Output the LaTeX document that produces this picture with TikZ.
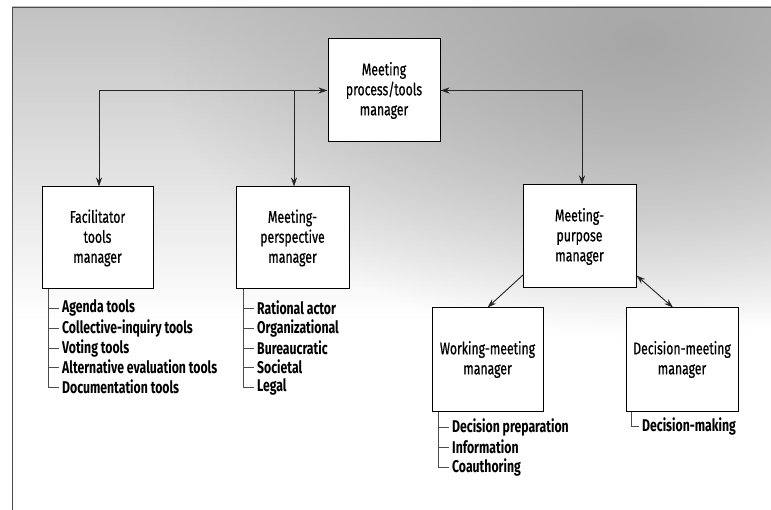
\documentclass[tikz,border=0pt]{standalone}
\usepackage{fontspec}
\setmainfont{Fira Sans}[FakeStretch=0.72]
\newfontfamily\boxfont{Fira Sans}[FakeStretch=0.72,FakeBold=0.6]
\usetikzlibrary{arrows.meta,calc,fadings}
\tikzfading[name=blobfade, inner color=transparent!0, outer color=transparent!100]
\begin{document}
\begin{tikzpicture}[x=1pt,y=-1pt,
  box/.style={draw=black,fill=white,line width=1pt,align=center,
    font=\boxfont\fontsize{17}{20}\selectfont,inner sep=2pt},
  item/.style={anchor=west,inner xsep=3pt,inner ysep=1pt,
    font=\fontsize{17}{18}\selectfont\bfseries},
  conn/.style={line width=0.9pt,draw=black!85},
  tip/.style={-{Stealth[length=9pt,width=6pt]}},
  tips/.style={{Stealth[length=9pt,width=6pt]}-{Stealth[length=9pt,width=6pt]}},
  tree/.style={line width=0.6pt,draw=black!70}]
\useasboundingbox (0,0) rectangle (771,510);
% background stipple (approximated)
\begin{scope}
\clip (12,7) rectangle (771,510);
\fill[top color=black!24,bottom color=white] (12,7) rectangle (771,320);
\fill[black!35,path fading=blobfade] (640,40) ellipse [x radius=480pt,y radius=300pt];
\end{scope}
\draw[line width=0.8pt,black!70] (771,7) -- (12,7) -- (12,510);

% boxes
\node[box,minimum width=112pt,minimum height=103pt] (top) at (384,90.5) {Meeting\\process/tools\\manager};
\node[box,minimum width=111pt,minimum height=102pt] (fac) at (97.5,238) {Facilitator\\tools\\manager};
\node[box,minimum width=113pt,minimum height=102pt] (per) at (292.5,238) {Meeting-\\perspective\\manager};
\node[box,minimum width=113pt,minimum height=103pt] (pur) at (579.5,236.5) {Meeting-\\purpose\\manager};
\node[box,minimum width=111pt,minimum height=103pt] (wrk) at (487.5,359.5) {Working-meeting\\manager};
\node[box,minimum width=112pt,minimum height=103pt] (dec) at (682,359.5) {Decision-meeting\\manager};

% connectors
\draw[conn,tips] ($(fac.north)+(1.5,0)$) |- (top.west);
\coordinate (j1) at ($(per.north)+(1.5,0)$);
\draw[conn,tip] (j1 |- top.west) -- (j1);
\draw[conn,tips] (top.east) -| ($(pur.north)+(2.5,0)$);
\draw[conn,tip] ($(pur.south west)+(1,-14)$) -- (wrk.north);
\draw[conn,tips] ($(pur.south east)+(0,-13)$) -- ($(dec.north)+(-9,0)$);

% facilitator list
\node[item] (f1) at (59,308) {Agenda tools};
\node[item] (f2) at (59,328) {Collective-inquiry tools};
\node[item] (f3) at (59,348) {Voting tools};
\node[item] (f4) at (59,367) {Alternative evaluation tools};
\node[item] (f5) at (59,387) {Documentation tools};
\coordinate (fl) at ($(fac.south west)+(7,0)$);
\draw[tree] (fl) |- (f5.west);
\foreach \n in {f1,f2,f3,f4} \draw[tree] (fl |- \n.west) -- (\n.west);

% perspective list
\node[item] (p1) at (254,308) {Rational actor};
\node[item] (p2) at (254,328) {Organizational};
\node[item] (p3) at (254,348) {Bureaucratic};
\node[item] (p4) at (254,367) {Societal};
\node[item] (p5) at (254,387) {Legal};
\coordinate (pl) at ($(per.south west)+(8,0)$);
\draw[tree] (pl) |- (p5.west);
\foreach \n in {p1,p2,p3,p4} \draw[tree] (pl |- \n.west) -- (\n.west);

% working list
\node[item] (w1) at (449,427) {Decision preparation};
\node[item] (w2) at (449,447) {Information};
\node[item] (w3) at (449,467) {Coauthoring};
\coordinate (wl) at ($(wrk.south west)+(7,0)$);
\draw[tree] (wl) |- (w3.west);
\foreach \n in {w1,w2} \draw[tree] (wl |- \n.west) -- (\n.west);

% decision list
\node[item] (d1) at (639,426) {Decision-making};
\coordinate (dl) at ($(dec.south west)+(6,0)$);
\draw[tree] (dl) |- (d1.west);
\end{tikzpicture}
\end{document}
